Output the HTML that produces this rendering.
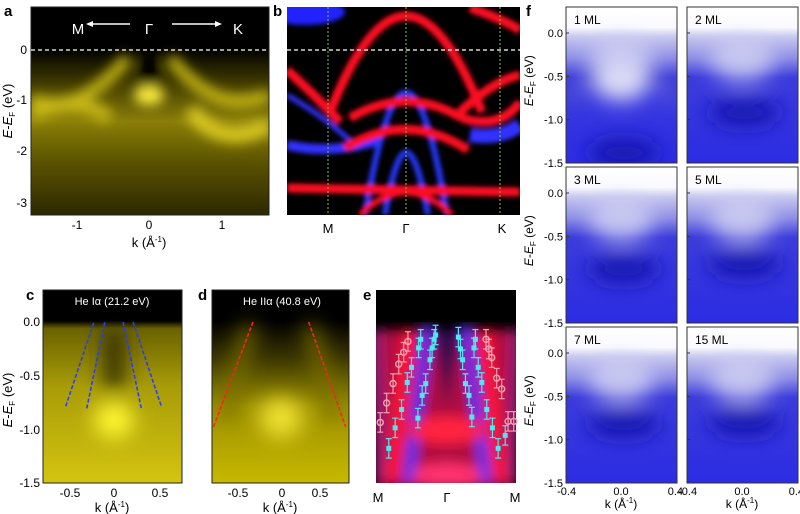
<!DOCTYPE html>
<html><head><meta charset="utf-8"><style>
html,body{margin:0;padding:0;background:#fff}
svg{display:block}
text{font-family:"Liberation Sans",sans-serif}
</style></head><body>
<svg id="fig" width="800" height="514" viewBox="0 0 800 514" xmlns="http://www.w3.org/2000/svg">
<defs>
<filter id="b6" x="-50%" y="-50%" width="200%" height="200%"><feGaussianBlur stdDeviation="6"/></filter>
<filter id="b3" x="-50%" y="-50%" width="200%" height="200%"><feGaussianBlur stdDeviation="2.5"/></filter>
<filter id="b10" x="-50%" y="-50%" width="200%" height="200%"><feGaussianBlur stdDeviation="10"/></filter>
<clipPath id="ca"><rect x="31" y="7" width="238" height="208"/></clipPath>
<clipPath id="cb"><rect x="287" y="7" width="233" height="208"/></clipPath>
<clipPath id="cc"><rect x="43" y="290" width="139" height="193"/></clipPath>
<clipPath id="cd"><rect x="212" y="290" width="137" height="193"/></clipPath>
<clipPath id="ce"><rect x="376" y="290" width="140" height="193"/></clipPath>
<linearGradient id="ga" x1="0" y1="0" x2="0" y2="1">
<stop offset="0" stop-color="#000"/><stop offset="0.2" stop-color="#000"/><stop offset="0.35" stop-color="#3a3500"/><stop offset="0.55" stop-color="#8a7e08"/><stop offset="0.75" stop-color="#5a5200"/><stop offset="1" stop-color="#2c2800"/></linearGradient>
<linearGradient id="gc" x1="0" y1="0" x2="0" y2="1">
<stop offset="0" stop-color="#000"/><stop offset="0.16" stop-color="#000"/><stop offset="0.2" stop-color="#6a6200"/><stop offset="0.5" stop-color="#a89c08"/><stop offset="1" stop-color="#d4c410"/></linearGradient>
<linearGradient id="gd" x1="0" y1="0" x2="0" y2="1">
<stop offset="0" stop-color="#000"/><stop offset="0.16" stop-color="#000"/><stop offset="0.35" stop-color="#3a3500"/><stop offset="0.6" stop-color="#9c9000"/><stop offset="1" stop-color="#c8b800"/></linearGradient>
<linearGradient id="gf" x1="0" y1="0" x2="0" y2="1">
<stop offset="0" stop-color="#fff"/><stop offset="0.13" stop-color="#fafaff"/><stop offset="0.19" stop-color="#c8c8f0"/><stop offset="0.33" stop-color="#8c8ce6"/><stop offset="0.45" stop-color="#3c3cdc"/><stop offset="1" stop-color="#2c2ce4"/></linearGradient>
</defs>

<!-- Panel a -->
<g>
<text x="4" y="16" font-size="15" font-weight="bold">a</text>
<g clip-path="url(#ca)">
<rect x="31" y="7" width="238" height="208" fill="url(#ga)"/>
<g filter="url(#b6)">
<path d="M31,100 C70,112 95,95 128,58" stroke="#c8b818" stroke-width="12" fill="none"/>
<path d="M170,58 C200,95 230,112 269,95" stroke="#c8b818" stroke-width="12" fill="none"/>
<path d="M31,115 Q77,95 110,118" stroke="#c8b818" stroke-width="14" fill="none"/>
<path d="M190,110 Q222,150 269,125" stroke="#d8c820" stroke-width="16" fill="none"/>
<ellipse cx="149" cy="95" rx="15" ry="10" fill="#fff040"/>
<ellipse cx="149" cy="70" rx="10" ry="18" fill="#000"/>
</g>
</g>
<rect x="31" y="7" width="238" height="208" fill="none" stroke="#222" stroke-width="1"/>
<line x1="31" y1="50" x2="269" y2="50" stroke="#fff" stroke-width="1.3" stroke-dasharray="4,3"/>
<text x="78" y="34" font-size="15" fill="#fff" text-anchor="middle">M</text>
<text x="149" y="34" font-size="15" fill="#fff" text-anchor="middle">Γ</text>
<text x="238" y="34" font-size="15" fill="#fff" text-anchor="middle">K</text>
<line x1="90" y1="24" x2="130" y2="24" stroke="#fff" stroke-width="1.5"/><path d="M86,24 l7,-3 v6z" fill="#fff"/>
<line x1="172" y1="24" x2="218" y2="24" stroke="#fff" stroke-width="1.5"/><path d="M222,24 l-7,-3 v6z" fill="#fff"/>
<g font-size="12" text-anchor="end">
<text x="27" y="54">0</text><text x="27" y="104">-1</text><text x="27" y="155">-2</text><text x="27" y="207">-3</text></g>
<g font-size="12" text-anchor="middle">
<text x="77" y="229">-1</text><text x="149" y="229">0</text><text x="222" y="229">1</text></g>
<text x="149" y="247" font-size="13" text-anchor="middle">k (Å<tspan font-size="8" dy="-5">-1</tspan><tspan dy="5">)</tspan></text>
<text transform="translate(12,111) rotate(-90)" font-size="13" text-anchor="middle"><tspan font-style="italic">E</tspan>-<tspan font-style="italic">E</tspan><tspan font-size="8" dy="3">F</tspan><tspan dy="-3"> (eV)</tspan></text>
</g>

<!-- Panel b -->
<g>
<text x="273" y="16" font-size="15" font-weight="bold">b</text>
<g clip-path="url(#cb)">
<rect x="287" y="7" width="233" height="208" fill="#000"/>
<g filter="url(#b3)" fill="none">
<ellipse cx="305" cy="12" rx="40" ry="13" fill="#2020ff"/>
<path d="M287,145 Q330,155 380,140" stroke="#3030ff" stroke-width="10"/>
<path d="M470,135 Q500,140 520,125" stroke="#3030ff" stroke-width="14"/>
<path d="M287,95 Q330,120 360,150" stroke="#3030ff" stroke-width="5"/>
<path d="M365,215 Q406,-30 447,215" stroke="#2838ff" stroke-width="6"/>
<path d="M385,215 Q406,90 428,215" stroke="#2838ff" stroke-width="6"/>
<path d="M330,112 Q406,-80 482,112" stroke="#ff1020" stroke-width="9"/>
<path d="M287,70 Q320,100 340,122" stroke="#ff1020" stroke-width="9"/>
<path d="M350,118 Q406,85 462,118" stroke="#ff1020" stroke-width="9"/>
<path d="M345,148 Q406,110 468,150" stroke="#ff1020" stroke-width="9"/>
<path d="M287,188 L520,192" stroke="#ff1020" stroke-width="9"/>
<path d="M360,215 Q406,170 452,215" stroke="#ff1020" stroke-width="6"/>
<path d="M460,112 Q495,80 520,75" stroke="#ff1020" stroke-width="9"/>
<path d="M462,118 Q500,130 520,102" stroke="#ff1020" stroke-width="9"/>
<path d="M470,8 Q500,18 520,30" stroke="#ff1020" stroke-width="9"/>
</g>
</g>
<line x1="287" y1="50" x2="520" y2="50" stroke="#fff" stroke-width="1.3" stroke-dasharray="4,3"/>
<g stroke="#8ac040" stroke-width="1" stroke-dasharray="2,2"><line x1="328" y1="7" x2="328" y2="215"/><line x1="406" y1="7" x2="406" y2="215"/><line x1="500" y1="7" x2="500" y2="215"/></g>
<g font-size="13" text-anchor="middle"><text x="328" y="233">M</text><text x="406" y="233">Γ</text><text x="502" y="233">K</text></g>
</g>

<!-- Panel c -->
<g>
<text x="26" y="300" font-size="15" font-weight="bold">c</text>
<g clip-path="url(#cc)">
<rect x="43" y="290" width="139" height="193" fill="url(#gc)"/>
<g filter="url(#b10)">
<path d="M114,330 L114,390" stroke="#2a2600" stroke-width="18"/>
<ellipse cx="114" cy="420" rx="20" ry="18" fill="#fff830"/>
</g>
</g>
<text x="112" y="305" font-size="11" fill="#fff" text-anchor="middle" font-family="Liberation Serif,serif">He Iα (21.2 eV)</text>
<g id="cLines"></g>
<rect x="43" y="290" width="139" height="193" fill="none" stroke="#222"/>
<g font-size="12" text-anchor="end"><text x="40" y="326">0.0</text><text x="40" y="380">-0.5</text><text x="40" y="434">-1.0</text><text x="40" y="487">-1.5</text></g>
<g font-size="12" text-anchor="middle"><text x="70" y="497">-0.5</text><text x="114" y="497">0</text><text x="160" y="497">0.5</text></g>
<text x="112" y="512" font-size="13" text-anchor="middle">k (Å<tspan font-size="8" dy="-5">-1</tspan><tspan dy="5">)</tspan></text>
<text transform="translate(12,400) rotate(-90)" font-size="13" text-anchor="middle"><tspan font-style="italic">E</tspan>-<tspan font-style="italic">E</tspan><tspan font-size="8" dy="3">F</tspan><tspan dy="-3"> (eV)</tspan></text>
</g>

<!-- Panel d -->
<g>
<text x="198" y="300" font-size="15" font-weight="bold">d</text>
<g clip-path="url(#cd)">
<rect x="212" y="290" width="137" height="193" fill="url(#gd)"/>
<g filter="url(#b10)">
<path d="M250,325 L225,420" stroke="#7a7000" stroke-width="14"/>
<path d="M310,325 L335,420" stroke="#7a7000" stroke-width="14"/>
<ellipse cx="281" cy="418" rx="22" ry="20" fill="#f0e030"/>
</g>
</g>
<text x="282" y="305" font-size="11" fill="#fff" text-anchor="middle" font-family="Liberation Serif,serif">He IIα (40.8 eV)</text>
<g id="dLines"></g>
<rect x="212" y="290" width="137" height="193" fill="none" stroke="#222"/>
<g font-size="12" text-anchor="middle"><text x="238" y="497">-0.5</text><text x="282" y="497">0</text><text x="320" y="497">0.5</text></g>
<text x="280" y="512" font-size="13" text-anchor="middle">k (Å<tspan font-size="8" dy="-5">-1</tspan><tspan dy="5">)</tspan></text>
</g>

<!-- Panel e -->
<g>
<text x="363" y="300" font-size="15" font-weight="bold">e</text>
<g clip-path="url(#ce)">
<rect x="376" y="290" width="140" height="193" fill="#000"/>
<g filter="url(#b6)">
<rect x="376" y="330" width="140" height="160" fill="#b01040"/>
<path d="M376,330 L380,480" stroke="#a02080" stroke-width="10"/>
<path d="M516,330 L512,480" stroke="#a02080" stroke-width="10"/>
<path d="M410,330 L392,480" stroke="#ff1838" stroke-width="14"/>
<path d="M484,330 L500,480" stroke="#ff1838" stroke-width="14"/>
<path d="M428,325 Q415,420 408,483" stroke="#3838ff" stroke-width="10" fill="none"/>
<path d="M466,325 Q479,420 486,483" stroke="#3838ff" stroke-width="10" fill="none"/>
<path d="M434,330 L447,410 L460,330Z" fill="#200850"/>
<ellipse cx="447" cy="430" rx="38" ry="14" fill="#ff2040"/>
<ellipse cx="447" cy="475" rx="35" ry="12" fill="#ff3070"/>
</g>
<rect x="376" y="290" width="140" height="32" fill="#000"/>
</g>
<g id="ePoints"></g>
<g font-size="13" text-anchor="middle"><text x="378" y="502">M</text><text x="447" y="502">Γ</text><text x="515" y="502">M</text></g>
</g>

<!-- Panel f -->
<g id="panelF">
<text x="526" y="16" font-size="15" font-weight="bold">f</text>
</g>
</svg>
<script>
// Panel c dashed dispersions (k in 1/Å, E in eV)
const cK1=[-0.53,-0.22], cE1=[-0.78,0.0];
const cK2=[-0.30,-0.10], cE2=[-0.80,0.0];
const cK3=[0.10,0.30], cE3=[0.0,-0.80];
const cK4=[0.21,0.52], cE4=[0.0,-0.78];
// Panel d dashed
const dK1=[-0.81,-0.33], dE1=[-0.97,0.0];
const dK2=[0.35,0.80], dE2=[0.0,-0.97];
// Panel e data points (k in units of Γ-M, E in eV)
const ePinkK=[-0.94,-0.85,-0.76,-0.68,-0.61,-0.55,0.55,0.59,0.63,0.70,0.77,0.86,0.94];
const ePinkE=[-0.93,-0.75,-0.57,-0.39,-0.28,-0.18,-0.16,-0.25,-0.33,-0.52,-0.62,-0.92,-0.92];
const eCyanK=[-0.82,-0.73,-0.64,-0.56,-0.50,-0.40,-0.37,-0.41,-0.35,-0.30,-0.24,-0.21,-0.18,-0.16,0.16,0.19,0.22,0.26,0.31,0.35,0.40,0.38,0.44,0.49,0.56,0.64,0.72,0.82];
const eCyanE=[-1.17,-0.98,-0.81,-0.56,-0.42,-0.24,-0.16,-0.89,-0.68,-0.57,-0.35,-0.24,-0.16,-0.12,-0.14,-0.25,-0.35,-0.57,-0.68,-0.88,-0.16,-0.24,-0.42,-0.56,-0.81,-0.98,-1.17,-1.05];
const eErr=0.09;
// Panel f thickness labels
const fLabels=["1 ML","2 ML","3 ML","5 ML","7 ML","15 ML"];
const fTicksY=["0.0","-0.5","-1.0","-1.5"];
const fTicksYVal=[0,-0.5,-1.0,-1.5];
const fTicksX=["-0.4","0.0","0.4"];
const fTicksXVal=[-0.4,0,0.4];
const fDarkE=[-1.38,-0.92,-0.88,-0.82,-0.82,-0.80];

const NS="http://www.w3.org/2000/svg";
function mk(tag,attrs,parent){const e=document.createElementNS(NS,tag);for(const k in attrs)e.setAttribute(k,attrs[k]);parent.appendChild(e);return e;}
const cx=k=>114+k*91, cy=E=>322-E*108;
const dx=k=>280+k*82, dy=E=>322-E*108;
const ex=k=>447+k*71, ey=E=>322-E*108;

const cG=document.getElementById('cLines');
[[cK1,cE1],[cK2,cE2],[cK3,cE3],[cK4,cE4]].forEach(([K,E])=>{
  const l=mk('line',{x1:cx(K[0]),y1:cy(E[0]),x2:cx(K[1]),y2:cy(E[1]),stroke:'#2a3cff','stroke-width':1.6,'stroke-dasharray':'4,2'},cG);
  
  
});
const dG=document.getElementById('dLines');
[[dK1,dE1],[dK2,dE2]].forEach(([K,E])=>{
  const l=mk('line',{x1:dx(K[0]),y1:dy(E[0]),x2:dx(K[1]),y2:dy(E[1]),stroke:'#ff2020','stroke-width':1.6,'stroke-dasharray':'4,2'},dG);
  
  
});
const eG=document.getElementById('ePoints');
function errbar(x,y,col){
  const e=eErr*108;
  mk('line',{x1:x,y1:y-e,x2:x,y2:y+e,stroke:col,'stroke-width':1.2},eG);
  mk('line',{x1:x-3,y1:y-e,x2:x+3,y2:y-e,stroke:col,'stroke-width':1.2},eG);
  mk('line',{x1:x-3,y1:y+e,x2:x+3,y2:y+e,stroke:col,'stroke-width':1.2},eG);
}
ePinkK.forEach((k,i)=>{
  const x=ex(k),y=ey(ePinkE[i]);errbar(x,y,'#f0a0b0');
  const c=mk('circle',{cx:x,cy:y,r:3,fill:'none',stroke:'#f0a0b0','stroke-width':1.5},eG);
  
  
});
eCyanK.forEach((k,i)=>{
  const x=ex(k),y=ey(eCyanE[i]);errbar(x,y,'#50e8f0');
  const r=mk('rect',{x:x-2.5,y:y-2.5,width:5,height:5,fill:'#50e8f0'},eG);
  
  
});

// Panel f
const F=document.getElementById('panelF');
const colsX=[566,687], rowsY=[7,167,327], W=111, H=156;
fLabels.forEach((lab,i)=>{
  const x0=colsX[i%2], y0=rowsY[Math.floor(i/2)];
  const fy=E=>y0+26-E*86.7;
  const fx=k=>x0+55+k*136;
  const g=mk('g',{},F);
  
  
  const cid='cf'+i;
  const cp=mk('clipPath',{id:cid},g);mk('rect',{x:x0,y:y0,width:W,height:H},cp);
  const inner=mk('g',{'clip-path':'url(#'+cid+')'},g);
  mk('rect',{x:x0,y:y0,width:W,height:H,fill:'url(#gf)'},inner);
  const bl=mk('g',{filter:'url(#b10)'},inner);
  mk('ellipse',{cx:fx(0),cy:fy(-0.3),rx:32,ry:22,fill:'#d4d4f4',opacity:0.8},bl);
  mk('ellipse',{cx:fx(0.02),cy:fy(fDarkE[i]),rx:36,ry:14,fill:'#1414b0'},bl);
  if(i===0){
    mk('path',{d:`M${x0},${fy(-0.8)} Q${fx(0)},${fy(0.1)} ${x0+W},${fy(-0.8)}`,stroke:'#7070d0','stroke-width':6,fill:'none'},bl);
    mk('ellipse',{cx:fx(0),cy:fy(-0.55),rx:28,ry:20,fill:'#dcdcf6'},bl);
  }
  mk('rect',{x:x0,y:y0,width:W,height:H,fill:'none',stroke:'#333','stroke-width':1},g);
  const t=mk('text',{x:x0+8,y:y0+17,'font-size':12},g);t.textContent=lab;
  
  
  fTicksYVal.forEach((v,j)=>{
    mk('line',{x1:x0,y1:fy(v),x2:x0+3,y2:fy(v),stroke:'#333'},g);
    if(i%2===0){const tt=mk('text',{x:x0-3,y:fy(v)+4,'font-size':11,'text-anchor':'end'},g);tt.textContent=fTicksY[j];}
  });
  if(Math.floor(i/2)===2){
    fTicksXVal.forEach((v,j)=>{const tt=mk('text',{x:fx(v),y:y0+H+12,'font-size':11,'text-anchor':'middle'},g);tt.textContent=fTicksX[j];});
    const xt=mk('text',{x:x0+55,y:y0+H+25,'font-size':12,'text-anchor':'middle'},g);
    xt.innerHTML='k (Å<tspan font-size="8" dy="-5">-1</tspan><tspan dy="5">)</tspan>';
  }
  if(i%2===0){
    const yt=mk('text',{transform:`translate(${x0-33},${fy(-0.55)}) rotate(-90)`,'font-size':12,'text-anchor':'middle'},g);
    yt.innerHTML='<tspan font-style="italic">E</tspan>-<tspan font-style="italic">E</tspan><tspan font-size="8" dy="3">F</tspan><tspan dy="-3"> (eV)</tspan>';
  }
});
</script>
</body></html>
